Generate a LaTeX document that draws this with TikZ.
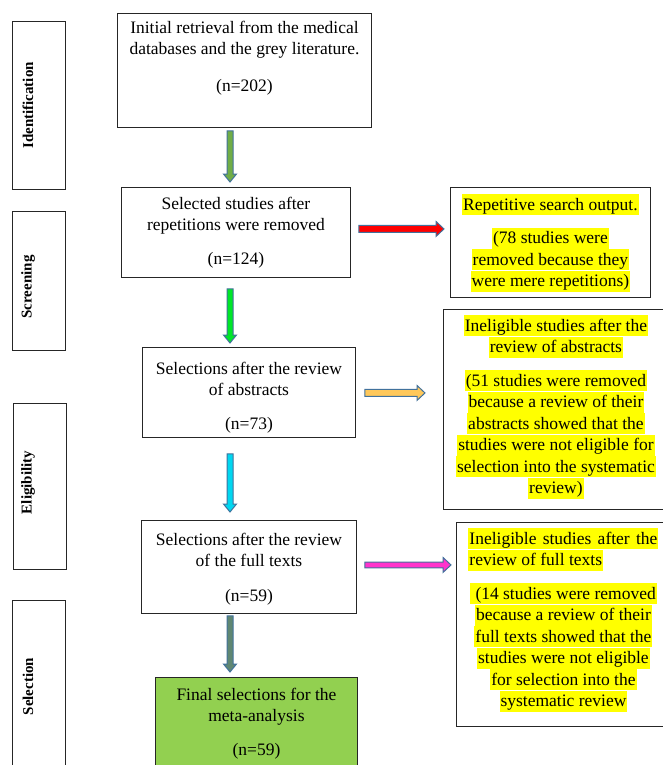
\documentclass[tikz,border=0pt]{standalone}
\usepackage{fontspec}
\setmainfont{Liberation Serif}
\usetikzlibrary{calc,positioning}
\definecolor{hlyellow}{RGB}{255,255,0}
\definecolor{finalgreen}{RGB}{146,208,80}
\definecolor{edgeblue}{RGB}{65,113,156}
\definecolor{olivegreen}{RGB}{112,173,71}
\definecolor{brightgreen}{RGB}{0,230,40}
\definecolor{lightorange}{RGB}{255,200,90}
\definecolor{skycyan}{RGB}{0,215,240}
\definecolor{hotpink}{RGB}{255,51,204}
\definecolor{steelgreen}{RGB}{95,135,115}
\tikzset{
  boxframe/.style={draw=black!85, line width=0.9pt, anchor=north west, inner sep=0pt},
  txt/.style={anchor=north, inner sep=0pt, align=center, font=\fontsize{17.5}{21.5}\selectfont},
  stage/.style={rotate=90, inner sep=0pt, font=\fontsize{15}{18}\selectfont\bfseries},
  blockedge/.style={draw=edgeblue, line width=1pt, line join=miter},
}
\newcommand\strt{\rule[-5pt]{0pt}{21pt}}
\newcommand\hlyel[1]{{\setlength\fboxsep{0pt}\colorbox{hlyellow}{\strt\hspace{1pt}#1\hspace{1pt}}}}
% block arrow downwards: from, to, gap from, gap to, colour
\newcommand\vblock[5]{%
  \coordinate (va) at ($(#1.south -| ax)+(0,#3)$);
  \coordinate (vb) at ($(#2.north -| ax)+(0,-#4)$);
  \filldraw[blockedge, fill=#5] ($(va)+(-3,0)$) -- ($(vb)+(-3,-8)$) -- ($(vb)+(-6.5,-8)$) -- (vb)
    -- ($(vb)+(6.5,-8)$) -- ($(vb)+(3,-8)$) -- ($(va)+(3,0)$) -- cycle;}
% block arrow to the right: from, to, gap from, gap to, y shift, half shaft, colour
\newcommand\hblock[7]{%
  \coordinate (ha) at ($(#1.east)+(#3,#5)$);
  \coordinate (hb) at ($(#2.west |- ha)+(-#4,0)$);
  \filldraw[blockedge, fill=#7] ($(ha)+(0,-#6)$) -- ($(hb)+(-8,-#6)$) -- ($(hb)+(-8,-7.5)$) -- (hb)
    -- ($(hb)+(-8,7.5)$) -- ($(hb)+(-8,#6)$) -- ($(ha)+(0,#6)$) -- cycle;}

\begin{document}
\begin{tikzpicture}[x=1pt, y=-1pt]
\useasboundingbox (0,0) rectangle (662,765);
% stages
\node[boxframe, minimum width=53pt, minimum height=168pt] (ident) at (12,21) {};
\node[boxframe, minimum width=53pt, minimum height=139pt] (screen) at (12,211) {};
\node[boxframe, minimum width=53pt, minimum height=166pt] (elig) at (13,403) {};
\node[boxframe, minimum width=53pt, minimum height=172pt] (selec) at (12,600) {};
\node[stage] at ($(ident.west)+(16,0)$) {Identification};
\node[stage] at ($(screen.west)+(16,6)$) {Screening};
\node[stage] at ($(elig.west)+(15,-4)$) {Eligibility};
\node[stage] at ($(selec.west)+(16,0)$) {Selection};
% main column
\node[boxframe, minimum width=254pt, minimum height=114pt] (init) at (117,13) {};
\node[boxframe, minimum width=229pt, minimum height=90pt] (sel) at (121,187) {};
\node[boxframe, minimum width=213pt, minimum height=90pt] (abs) at (142,347) {};
\node[boxframe, minimum width=215pt, minimum height=93pt] (full) at (141,520) {};
\node[boxframe, fill=finalgreen, minimum width=202pt, minimum height=95pt] (final) at (155,677) {};
% removed records
\node[boxframe, minimum width=200pt, minimum height=110pt] (rep) at (450,187) {};
\node[boxframe, minimum width=221pt, minimum height=200pt] (inelA) at (443,309) {};
\node[boxframe, minimum width=208pt, minimum height=204pt] (inelB) at (456,522) {};

\node[txt] at ($(init.north)+(0,4)$) {\strt Initial retrieval from the medical\\ databases and the grey literature.\\[15pt] (n=202)};
\node[txt] at ($(sel.north)+(0,6)$) {\strt Selected studies after\\ repetitions were removed\\[12pt] (n=124)};
\node[txt] at ($(abs.north)+(0,11)$) {\strt Selections after the review\\ of abstracts\\[12pt] (n=73)};
\node[txt] at ($(full.north)+(0,9)$) {\strt Selections after the review\\ of the full texts\\[13pt] (n=59)};
\node[txt] at ($(final.north)+(0,7)$) {\strt Final selections for the\\ meta-analysis\\[12pt] (n=59)};

\node[txt] at ($(rep.north)+(0,7)$) {\hlyel{Repetitive search output.}\\[12pt]
  \hlyel{(78 studies were}\\ \hlyel{removed because they}\\ \hlyel{were mere repetitions)}};
\node[txt] at ($(inelA.north)+(2,6)$) {\hlyel{Ineligible studies after the}\\ \hlyel{review of abstracts}\\[12pt]
  \hlyel{(51 studies were removed}\\ \hlyel{because a review of their}\\ \hlyel{abstracts showed that the}\\
  \hlyel{studies were not eligible for}\\ \hlyel{selection into the systematic}\\ \hlyel{review)}};
\node[txt] at ($(inelB.north)+(3,6)$) {\hlyel{\makebox[188pt][s]{Ineligible studies after the}}\\
  \makebox[190pt][l]{\hlyel{review of full texts}}\\[12pt]
  \hlyel{\ (14 studies were removed}\\ \hlyel{because a review of their}\\ \hlyel{full texts showed that the}\\
  \hlyel{studies were not eligible}\\ \hlyel{for selection into the}\\ \hlyel{systematic review}};
% arrows
\coordinate (ax) at (230,0);
\vblock{init}{sel}{3}{5}{olivegreen}
\vblock{sel}{abs}{11}{4}{brightgreen}
\vblock{abs}{full}{16}{8}{skycyan}
\vblock{full}{final}{2}{5}{steelgreen}
\hblock{sel}{rep}{8}{6}{-3.5}{3.5}{red}
\hblock{abs}{inelA}{9}{18}{0.5}{3.5}{lightorange}
\hblock{full}{inelB}{8}{5}{-2}{2.8}{hotpink}
\end{tikzpicture}
\end{document}
